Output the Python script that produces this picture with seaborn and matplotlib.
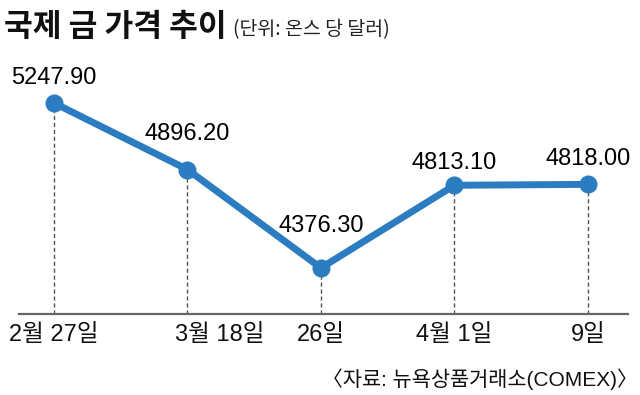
import matplotlib
matplotlib.use("Agg")
import matplotlib.pyplot as plt
import matplotlib.transforms as mtransforms
import seaborn as sns
import pandas as pd

# --------------------------
# DATA
# --------------------------
dates = ["2월 27일", "3월 18일", "26일", "4월 1일", "9일"]
prices = [5247.90, 4896.20, 4376.30, 4813.10, 4818.00]

title = "국제 금 가격 추이"
unit = "(단위: 온스 당 달러)"
source = "〈자료: 뉴욕상품거래소(COMEX)〉"

# label offsets above each point (points), as laid out in the original
label_offsets = [13.7, 21.6, 26, 11.5, 13.7]

# --------------------------
# STYLE
# --------------------------
sns.set_style("white")
latin = "Liberation Sans"
kr = "Noto Sans CJK KR"
plt.rcParams["font.family"] = [latin, kr, "DejaVu Sans"]

blue = "#2b7cc0"

df = pd.DataFrame({"pos": range(len(dates)), "price": prices})

fig = plt.figure(figsize=(6.4, 3.95), dpi=100)
ax = fig.add_axes([19 / 640, 1 - 314 / 395, 609 / 640, 254 / 395])

# dashed drop lines
ax.vlines(df["pos"], 4133, df["price"], colors="#555555",
          linestyles=(0, (3, 2)), linewidth=1, zorder=1)

sns.lineplot(data=df, x="pos", y="price", ax=ax, color=blue,
             linewidth=5, marker="o", markersize=13,
             markeredgewidth=0, zorder=3)

for x, y, off in zip(df["pos"], df["price"], label_offsets):
    ax.annotate(f"{y:.2f}", (x, y), xytext=(0, off),
                textcoords="offset points", ha="center", va="baseline",
                fontsize=17, color="#000000", family=[latin, kr])

ax.set_xlim(-0.262, 4.30)
ax.set_ylim(4133, 5475)
ax.set_xlabel("")
ax.set_ylabel("")
ax.set_yticks([])
ax.set_xticks(df["pos"])
ax.set_xticklabels(dates, fontsize=17, color="#111111", family=[latin, kr])
ax.tick_params(axis="x", length=0, pad=7)

# the "3월 18일" label sits a little right of its tick in the original
lab = ax.get_xticklabels()[1]
lab.set_transform(lab.get_transform() +
                  mtransforms.ScaledTranslation(0.32, 0, fig.dpi_scale_trans))

for s in ["top", "left", "right"]:
    ax.spines[s].set_visible(False)
ax.spines["bottom"].set_color("#666666")
ax.spines["bottom"].set_linewidth(1.6)

# --------------------------
# TITLES
# --------------------------
t = fig.text(4 / 640, 1 - 36 / 395, title, fontsize=22.5, fontweight="bold",
             color="#111111", family=[kr], va="baseline", ha="left")
fig.canvas.draw()
bb = t.get_window_extent()
fig.text((bb.x1 + 6) / 640, 1 - 35 / 395, unit, fontsize=14,
         color="#222222", family=[kr], va="baseline", ha="left")

fig.text(638 / 640, 1 - 386 / 395, source, fontsize=15, color="#111111",
         family=[latin, kr], va="baseline", ha="right")

fig.savefig("out.png", dpi=100)
